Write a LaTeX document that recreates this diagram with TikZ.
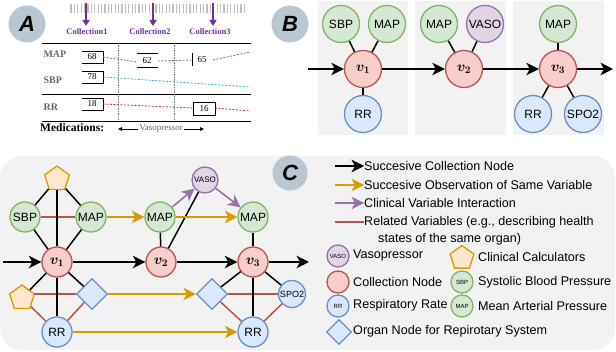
\documentclass[tikz,border=0pt]{standalone}
\usepackage{fontspec}
\setmainfont{Liberation Sans}
\newfontfamily\serifA{Liberation Serif}
\usepackage{amsmath,bm}
\usetikzlibrary{arrows.meta,shapes.geometric}
\definecolor{gfill}{HTML}{D5E8D4}\definecolor{gline}{HTML}{82B366}
\definecolor{rfill}{HTML}{F8CECC}\definecolor{rline}{HTML}{B85450}
\definecolor{bfill}{HTML}{DAE8FC}\definecolor{bline}{HTML}{6C8EBF}
\definecolor{pfill}{HTML}{E1D5E7}\definecolor{pline}{HTML}{9673A6}
\definecolor{ofill}{HTML}{FFE6CC}\definecolor{oline}{HTML}{D79B00}
\definecolor{lettc}{HTML}{B9C7D2}
\definecolor{bgc}{HTML}{F2F2F2}
\definecolor{apurple}{HTML}{7030A0}
\definecolor{acyan}{HTML}{30B0D8}
\definecolor{ared}{HTML}{C83030}
\definecolor{agray}{HTML}{666666}
\tikzset{
  lettercirc/.style={circle,fill=lettc,minimum size=37pt,inner sep=0pt,
    font=\fontsize{22}{22}\selectfont\bfseries\itshape},
  vnode/.style={circle,line width=1.3pt,inner sep=0pt,font=\fontsize{12}{12}\selectfont},
  bigv/.style={vnode,minimum size=37pt},
  smallv/.style={vnode,minimum size=30pt},
  legv/.style={vnode,minimum size=22pt,font=\fontsize{6}{6}\selectfont},
  gn/.style={draw=gline,fill=gfill},
  rn/.style={draw=rline,fill=rfill,font=\fontsize{14}{14}\selectfont},
  bn/.style={draw=bline,fill=bfill},
  pn/.style={draw=pline,fill=pfill},
  pent/.style={regular polygon,regular polygon sides=5,draw=oline,fill=ofill,
    line width=1.3pt,minimum size=26pt,inner sep=0pt},
  dia/.style={diamond,draw=bline,fill=bfill,line width=1.3pt,minimum size=31pt,inner sep=0pt},
  edge/.style={line width=1.5pt,black},
  redl/.style={line width=1.5pt,rline},
  arr/.style={line width=1.6pt,-{Stealth[length=12.5pt,width=12.5pt,inset=3.5pt]}},
  oarr/.style={arr,oline},
  parr/.style={arr,pline},
  colA/.style={font=\serifA\bfseries\fontsize{8.5}{9}\selectfont,text=apurple},
  labA/.style={font=\serifA\bfseries\fontsize{10}{10}\selectfont,text=agray,anchor=west},
  numA/.style={font=\serifA\fontsize{9}{9}\selectfont},
  legt/.style={anchor=west,inner sep=0pt,font=\fontsize{12.6}{13}\selectfont},
}
\begin{document}
\begin{tikzpicture}[x=1pt,y=-1pt]
\useasboundingbox (0,0) rectangle (616,352);
% ================= Panel A =================
\node[lettercirc] (la) at (27,24) {A};
\foreach \i in {0,...,51} \draw[gray!50,line width=1.2pt] (71+\i*3.4,4) -- (71+\i*3.4,13);
\node[colA] (c1) at (87,32) {Collection1};
\node[colA] (c2) at (150,32) {Collection2};
\node[colA] (c3) at (210,32) {Collection3};
\coordinate (t1) at (86,3); \coordinate (t2) at (153,3); \coordinate (t3) at (213,3);
\coordinate (e1) at (86,26); \coordinate (e2) at (153,26); \coordinate (e3) at (213,26);
\foreach \a/\b in {t1/e1,t2/e2,t3/e3}
  \draw[apurple,line width=1.4pt,-{Triangle[length=6pt,width=7pt]}] (\a) -- (\b);
\draw[line width=0.9pt] (42,43) -- (251,43);
\draw[line width=0.9pt] (42,94) -- (251,94);
\draw[line width=0.9pt] (42,121) -- (251,121);
\draw[gray,densely dotted,line width=0.7pt] (118,43) -- (118,121);
\draw[gray,densely dotted,line width=0.7pt] (174,43) -- (174,121);
\node[labA] (lmap) at (40,54) {MAP};
\node[labA] (lsbp) at (40,80) {SBP};
\node[labA] (lrr) at (40,107) {RR};
% boxes
\draw[line width=0.8pt] (82,51) -- (103,51) -- (103,63) -- (82,63);
\draw[line width=0.8pt] (82,71) -- (103,71) -- (103,83) -- (82,83);
\draw[line width=0.8pt] (82,98) -- (103,98) -- (103,110) -- (82,110);
\draw[line width=0.8pt] (137,53) -- (158,53); \draw[line width=0.8pt] (137,67) -- (158,67);
\draw[line width=0.8pt] (192,53) -- (192,66);
\draw[line width=0.8pt] (193,102) rectangle (215,115);
\node[numA] (n68) at (92,57) {68};
\node[numA] (n78) at (92,77) {78};
\node[numA] (n18) at (92,104) {18};
\node[numA] (n62) at (147,61) {62};
\node[numA] (n65) at (202,60) {65};
\node[numA] (n16) at (204,109) {16};
\draw[apurple!80,dash pattern=on 2pt off 1.5pt,line width=0.8pt] (103,57) -- (137,62);
\draw[apurple!80,dash pattern=on 2pt off 1.5pt,line width=0.8pt] (158,61) -- (192,60);
\draw[apurple!80,dash pattern=on 2pt off 1.5pt,line width=0.8pt] (213,60) -- (250,52);
\draw[acyan,dash pattern=on 2pt off 1.5pt,line width=0.8pt] (103,77) -- (250,87);
\draw[ared,dash pattern=on 2pt off 1.5pt,line width=0.8pt] (103,104) -- (193,108);
\draw[ared,dash pattern=on 2pt off 1.5pt,line width=0.8pt] (215,108) -- (250,111);
\node[font=\serifA\bfseries\fontsize{11.5}{12}\selectfont,anchor=west,inner sep=0pt] (med) at (40,128) {Medications:};
\node[font=\serifA\fontsize{9}{9}\selectfont,text=agray,inner sep=1pt] (vaso) at (161,129) {Vasopressor};
\coordinate (va1) at (118,129); \coordinate (va2) at (204,129);
\draw[line width=0.8pt,-{Triangle[length=4pt,width=3.5pt]}] (vaso.west) -- (va1);
\draw[line width=0.8pt,-{Triangle[length=4pt,width=3.5pt]}] (vaso.east) -- (va2);
% ================= Panel B =================
\node[lettercirc] (lb) at (290,24) {B};
\fill[bgc] (318,1) rectangle (408,135);
\fill[bgc] (415,1) rectangle (506,135);
\fill[bgc] (513,1) rectangle (604,135);
\node[bigv,gn] (bsbp) at (341,24) {SBP};
\node[bigv,gn] (bmap1) at (387,24) {MAP};
\node[bigv,rn] (bv1) at (363,69) {$\bm{v_1}$};
\node[bigv,bn] (brr1) at (363,114) {RR};
\node[bigv,gn] (bmap2) at (439,24) {MAP};
\node[bigv,pn] (bvaso) at (485,24) {VASO};
\node[bigv,rn] (bv2) at (464,69) {$\bm{v_2}$};
\node[bigv,gn] (bmap3) at (558,24) {MAP};
\node[bigv,rn] (bv3) at (558,69) {$\bm{v_3}$};
\node[bigv,bn] (brr3) at (533,114) {RR};
\node[bigv,bn] (bspo) at (583,114) {SPO2};
\foreach \a/\b in {bsbp/bv1,bmap1/bv1,bv1/brr1,bmap2/bv2,bvaso/bv2,bmap3/bv3,bv3/brr3,bv3/bspo}
  \draw[edge] (\a) -- (\b);
\coordinate (bin) at (308,69); \coordinate (bout) at (613,69);
\draw[arr] (bin) -- (bv1);
\draw[arr] (bv1) -- (bv2);
\draw[arr] (bv2) -- (bv3);
\draw[arr] (bv3) -- (bout);
% ================= Panel C =================
\fill[bgc,rounded corners=22pt] (0,156) rectangle (615,350);
\node[lettercirc,minimum size=35pt] (lc) at (290,173) {C};
\node[pent] (cp1) at (57,179) {};
\node[smallv,gn] (csbp) at (25,217) {SBP};
\node[smallv,gn] (cmap1) at (91,217) {MAP};
\node[smallv,rn] (cv1) at (57,262) {$\bm{v_1}$};
\node[pent] (cp2) at (22,298) {};
\node[dia] (cd1) at (92,294) {};
\node[smallv,bn] (crr1) at (57,332) {RR};
\node[smallv,gn] (cmap2) at (160,217) {MAP};
\node[vnode,pn,minimum size=26pt,font=\fontsize{8}{8}\selectfont] (cvaso) at (205,180) {VASO};
\node[smallv,rn] (cv2) at (161,262) {$\bm{v_2}$};
\node[smallv,gn] (cmap3) at (253,217) {MAP};
\node[smallv,rn] (cv3) at (253,262) {$\bm{v_3}$};
\node[dia] (cd2) at (212,294) {};
\node[vnode,bn,minimum size=27pt,font=\fontsize{9}{9}\selectfont] (cspo) at (292,294) {SPO2};
\node[smallv,bn] (crr3) at (253,332) {RR};
% red related lines
\draw[redl] (csbp) -- (cmap1);
\draw[redl] (cp2.east |- cd1) -- (cd1.west);
\draw[redl] (cp2) -- (crr1);
\draw[redl] (cd1) -- (crr1);
\draw[redl] (cd2.east) -- (cspo.west);
\draw[redl] (cd2) -- (crr3);
\draw[redl] (crr3) -- (cspo);
% black edges
\foreach \a/\b in {cp1/csbp,cp1/cmap1,cp1/cv1,csbp/cv1,cmap1/cv1,cv1/cp2,cv1/cd1,cv1/crr1,cmap2/cv2,cv2/cvaso,cmap3/cv3,cv3/cd2,cv3/crr3,cv3/cspo}
  \draw[edge] (\a) -- (\b);
% orange arrows
\draw[oarr] (cmap1) -- (cmap2);
\draw[oarr] (cmap2) -- (cmap3);
\draw[oarr] (cd1) -- (cd2);
\draw[oarr] (crr1) -- (crr3);
% purple arrows
\draw[parr] (cmap2) -- (cvaso);
\draw[parr] (cvaso) -- (cmap3);
% black collection arrows
\coordinate (cin) at (3,262); \coordinate (cout) at (309,262);
\draw[arr] (cin) -- (cv1);
\draw[arr] (cv1) -- (cv2);
\draw[arr] (cv2) -- (cv3);
\draw[arr] (cv3) -- (cout);
% ================= Legend =================
\node[legt] (lt1) at (364,166) {Succesive Collection Node};
\node[legt] (lt2) at (364,185) {Succesive Observation of Same Variable};
\node[legt] (lt3) at (364,203) {Clinical Variable Interaction};
\node[legt] (lt4) at (364,222) {Related Variables (e.g., describing health};
\node[legt] (lt4b) at (378,239) {states of the same organ)};
\coordinate (ls1) at (335,166); \coordinate (ls2) at (335,185);
\coordinate (ls3) at (335,203); \coordinate (ls4) at (335,222);
\draw[arr] (ls1) -- (lt1.west);
\draw[oarr] (ls2) -- (lt2.west);
\draw[parr] (ls3) -- (lt3.west);
\draw[redl] (ls4) -- (lt4.west);
\node[legv,pn] (kvaso) at (338,256) {VASO};
\node[legt] (ktvaso) at (353,255) {Vasopressor};
\node[legv,rn] (kcol) at (338,282) {};
\node[legt] (ktcol) at (353,282) {Collection Node};
\node[legv,bn] (krr) at (338,306) {RR};
\node[legt] (ktrr) at (353,305) {Respiratory Rate};
\node[dia,minimum size=25pt] (kdia) at (339,332) {};
\node[legt] (ktdia) at (353,331) {Organ Node for Repirotary System};
\node[pent,minimum size=25pt] (kpent) at (462,258) {};
\node[legt] (ktpent) at (478,257) {Clinical Calculators};
\node[legv,gn] (ksbp) at (462,282) {SBP};
\node[legt] (ktsbp) at (478,282) {Systolic Blood Pressure};
\node[legv,gn] (kmap) at (462,306) {MAP};
\node[legt] (ktmap) at (478,306) {Mean Arterial Pressure};
\end{tikzpicture}
\end{document}
